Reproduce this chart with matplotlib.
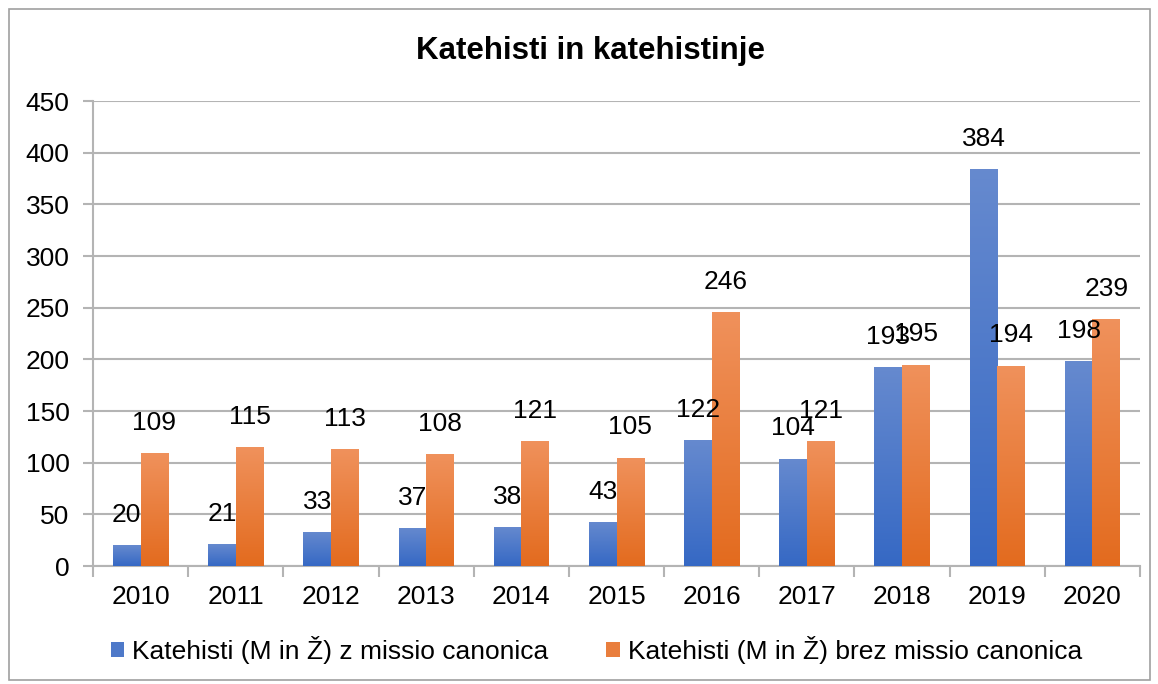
import matplotlib.pyplot as plt
import numpy as np
from matplotlib.patches import Patch, Rectangle
from matplotlib.ticker import MultipleLocator, FixedLocator

plt.rcParams['font.family'] = ['Liberation Sans', 'DejaVu Sans']

years = ['2010', '2011', '2012', '2013', '2014', '2015', '2016', '2017', '2018', '2019', '2020']
with_missio = [20, 21, 33, 37, 38, 43, 122, 104, 193, 384, 198]
without_missio = [109, 115, 113, 108, 121, 105, 246, 121, 195, 194, 239]
series_names = ['Katehisti (M in Ž) z missio canonica', 'Katehisti (M in Ž) brez missio canonica']

BLUE_TOP, BLUE_BOT = np.array([0.40, 0.54, 0.81]), np.array([0.21, 0.41, 0.77])
ORANGE_TOP, ORANGE_BOT = np.array([0.94, 0.57, 0.36]), np.array([0.89, 0.42, 0.12])
GRID = '#b4b4b4'
FS = 19

fig = plt.figure(figsize=(11.58, 6.84), dpi=100)
ax = fig.add_axes([0.0803, 0.1725, 0.9042, 0.6798])

x = np.arange(len(years))
w = 0.29


def grad_bars(xpos, vals, top, bot):
    bars = ax.bar(xpos, vals, w, facecolor='none', edgecolor='none', zorder=3)
    ramp = np.linspace(0, 1, 128)[:, None, None]
    img = top[None, None, :] * (1 - ramp) + bot[None, None, :] * ramp
    for b in bars:
        x0, y0 = b.get_x(), b.get_y()
        im = ax.imshow(img, extent=(x0, x0 + b.get_width(), y0, y0 + b.get_height()),
                       origin='upper', aspect='auto', zorder=3, interpolation='bilinear')
        im.set_clip_path(b)
    for xi, v in zip(xpos, vals):
        ax.annotate(str(v), (xi, v), xytext=(0, 13), textcoords='offset points',
                    ha='center', va='bottom', fontsize=FS, zorder=5)
    return bars


grad_bars(x - w / 2, with_missio, BLUE_TOP, BLUE_BOT)
grad_bars(x + w / 2, without_missio, ORANGE_TOP, ORANGE_BOT)

ax.set_xlim(-0.5, len(years) - 0.5)
ax.set_ylim(0, 450)
ax.yaxis.set_major_locator(MultipleLocator(50))
ax.set_xticks(x)
ax.set_xticklabels(years)
ax.xaxis.set_minor_locator(FixedLocator(np.arange(-0.5, len(years), 1.0)))
ax.tick_params(axis='x', which='major', length=0, pad=14, labelsize=FS)
ax.tick_params(axis='x', which='minor', length=8, color=GRID, width=1.5)
ax.tick_params(axis='y', length=7, color=GRID, width=1.5, labelsize=FS, pad=10)
ax.grid(axis='y', color=GRID, linewidth=1.5, zorder=0)
ax.set_axisbelow(True)
for s in ['top', 'right']:
    ax.spines[s].set_visible(False)
for s in ['left', 'bottom']:
    ax.spines[s].set_color(GRID)
    ax.spines[s].set_linewidth(1.5)

fig.text(0.51, 0.925, 'Katehisti in katehistinje', ha='center', va='center',
         fontsize=22.5, fontweight='bold')

handles = [Patch(facecolor=(BLUE_TOP + BLUE_BOT) / 2), Patch(facecolor=(ORANGE_TOP + ORANGE_BOT) / 2)]
fig.legend(handles, series_names, loc='center', bbox_to_anchor=(0.515, 0.05), ncol=2,
           frameon=False, fontsize=FS, handlelength=0.5, handleheight=0.5,
           handletextpad=0.3, columnspacing=2.2)

fig.add_artist(Rectangle((0.008, 0.006), 0.985, 0.981, transform=fig.transFigure,
                         fill=False, edgecolor='#a0a0a0', linewidth=1.2))

plt.savefig('out.png', dpi=100)
